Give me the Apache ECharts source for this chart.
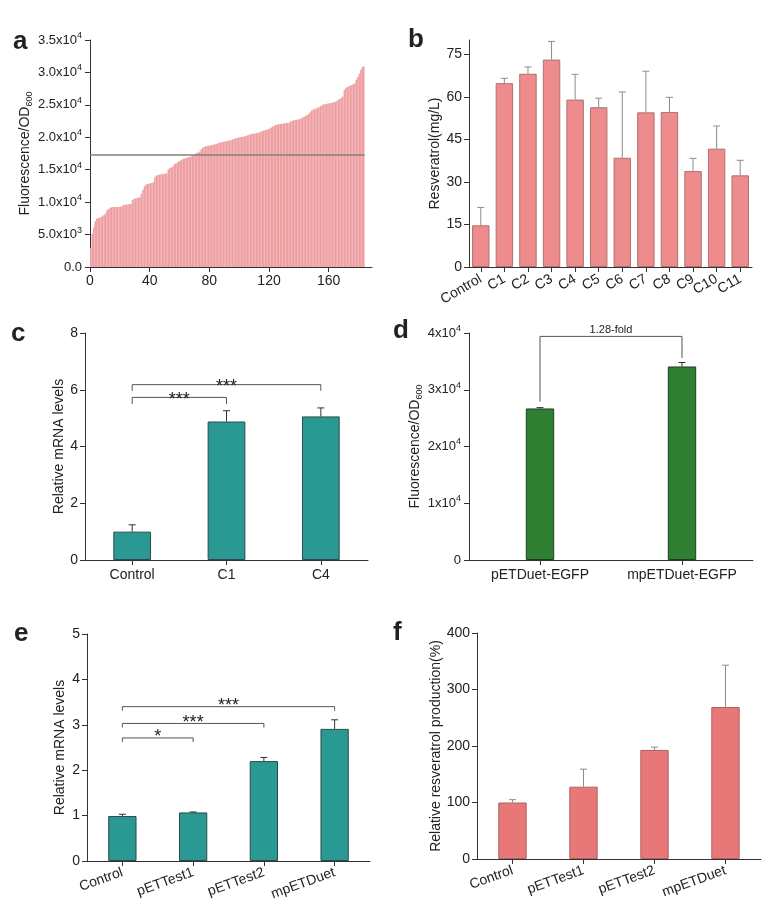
<!DOCTYPE html>
<html>
<head>
<meta charset="utf-8">
<script src="https://cdn.jsdelivr.net/npm/echarts@6/dist/echarts.min.js"></script>
<style>
html,body{margin:0;padding:0;background:#fff;}
#chart{width:776px;height:905px;}
</style>
</head>
<body>
<div id="chart"></div>
<script>
// ---------- DATA ----------
// Panel a: sorted fluorescence/OD600 of 184 clones
const aValues = [
 2950,5150,6100,7050,7450,7550,7600,7750,7900,8000,
 8300,8750,8950,9150,9200,9250,9250,9250,9250,9250,
 9300,9350,9550,9600,9650,9650,9700,9700,10350,10500,
 10600,10650,10700,10750,11300,11900,12450,12700,12800,12850,
 12900,12950,13100,13850,14100,14200,14250,14300,14300,14350,
 14400,14450,15050,15250,15350,15450,15800,15950,16100,16250,
 16400,16550,16700,16750,16800,16900,16950,17000,17100,17250,
 17450,17550,17650,17800,18100,18350,18500,18600,18650,18700,
 18750,18800,18850,18900,18950,19050,19150,19200,19250,19300,
 19350,19400,19450,19500,19550,19650,19750,19850,19900,19950,
 20000,20050,20100,20150,20200,20300,20400,20450,20500,20550,
 20600,20650,20700,20750,20850,20950,21050,21100,21150,21250,
 21350,21500,21650,21800,21900,21950,22000,22050,22100,22100,
 22150,22200,22200,22250,22450,22550,22600,22650,22700,22750,
 22800,22900,23050,23150,23300,23450,23600,23850,24150,24250,
 24350,24450,24550,24650,24800,24950,25050,25100,25150,25200,
 25250,25300,25350,25400,25500,25650,25800,25950,26100,26300,
 27300,27600,27750,27850,27950,28050,28200,28350,28900,29300,
 29800,30400,30800,30950
];
const aThreshold = 17300;
const aXTicks = [0, 40, 80, 120, 160];

// Panel b
const bCategories = ['Control','C1','C2','C3','C4','C5','C6','C7','C8','C9','C10','C11'];
const bValues = [14.7, 64.8, 68.1, 73.1, 59.0, 56.3, 38.5, 54.5, 54.6, 33.8, 41.7, 32.3];
const bErrors = [6.3, 1.7, 2.4, 6.4, 8.9, 3.2, 23.2, 14.5, 5.2, 4.5, 8.0, 5.3];
const bYTicks = [0, 15, 30, 45, 60, 75];

// Panel c
const cCategories = ['Control','C1','C4'];
const cValues = [1.0, 4.88, 5.06];
const cErrors = [0.24, 0.38, 0.30];
// [from, to, bracket level, left leg end, right leg end]
const cBrackets = [[0, 1, 5.73, 5.50, 5.50], [0, 2, 6.18, 5.96, 5.96]];
const cBracketLabels = ['***', '***'];

// Panel d
const dCategories = ['pETDuet-EGFP','mpETDuet-EGFP'];
const dValues = [26700, 34100];
const dErrors = [150, 700];
const dBrackets = [[0, 1, 39400, 27900, 35600]];
const dBracketLabels = ['1.28-fold'];

// Panel e
const eCategories = ['Control','pETTest1','pETTest2','mpETDuet'];
const eValues = [0.99, 1.07, 2.20, 2.91];
const eErrors = [0.04, 0.01, 0.08, 0.20];
const eBrackets = [[0, 1, 2.71, 2.62, 2.62], [0, 2, 3.03, 2.94, 2.94], [0, 3, 3.40, 3.31, 3.31]];
const eBracketLabels = ['*', '***', '***'];

// Panel f
const fCategories = ['Control','pETTest1','pETTest2','mpETDuet'];
const fValues = [100, 128, 193, 269];
const fErrors = [5, 31, 5, 74];

// ---------- STYLE / HELPERS ----------
const FONT = '"Liberation Sans", Arial, sans-serif';
const AX = '#333';
const TXT = '#222';

function sciLabel(v, oneDigit) {
  if (v === 0) return oneDigit ? '{m|0}' : '{m|0.0}';
  const e = Math.floor(Math.log10(v) + 1e-9);
  const m = v / Math.pow(10, e);
  const ms = oneDigit ? String(Math.round(m)) : m.toFixed(1);
  return '{m|' + ms + 'x10}{s|' + e + '}';
}
const sciRich = {
  m: {fontSize: 13, lineHeight: 18, color: TXT, fontFamily: FONT},
  s: {fontSize: 9, lineHeight: 9, verticalAlign: 'top', color: TXT, fontFamily: FONT}
};
const nameRich = {
  n: {fontSize: 14, lineHeight: 18, color: TXT, fontFamily: FONT},
  sub: {fontSize: 9, lineHeight: 9, verticalAlign: 'bottom', color: TXT, fontFamily: FONT}
};

function baseAxis(extra) {
  return Object.assign({
    axisLine: {show: true, lineStyle: {color: AX, width: 1}},
    axisTick: {show: true, length: 5, lineStyle: {color: AX, width: 1}},
    axisLabel: {color: TXT, fontSize: 14, fontFamily: FONT, margin: 7},
    splitLine: {show: false}
  }, extra);
}

function catAxis(gi, cats, rotate) {
  return baseAxis({
    type: 'category', gridIndex: gi, data: cats,
    axisTick: {show: true, length: 5, alignWithLabel: true, lineStyle: {color: AX}},
    axisLabel: {color: TXT, fontSize: 14, fontFamily: FONT, rotate: rotate || 0, margin: rotate ? 11 : 8, interval: 0}
  });
}

function errSeries(ax, vals, errs, color, capW) {
  return {
    type: 'custom', xAxisIndex: ax, yAxisIndex: ax, z: 3, silent: true,
    data: vals.map((v, i) => [i, v, v + errs[i]]),
    renderItem: function (params, api) {
      const x = api.value(0);
      const p0 = api.coord([x, api.value(1)]);
      const p1 = api.coord([x, api.value(2)]);
      return {type: 'group', children: [
        {type: 'line', shape: {x1: p0[0], y1: p0[1], x2: p1[0], y2: p1[1]}, style: {stroke: color, lineWidth: 1}},
        {type: 'line', shape: {x1: p1[0] - capW / 2, y1: p1[1], x2: p1[0] + capW / 2, y2: p1[1]}, style: {stroke: color, lineWidth: 1}}
      ]};
    }
  };
}

function bracketSeries(ax, brackets, labels, opts) {
  return {
    type: 'custom', xAxisIndex: ax, yAxisIndex: ax, z: 4, silent: true,
    data: brackets,
    renderItem: function (params, api) {
      const i0 = api.value(0), i1 = api.value(1), y = api.value(2);
      const a = api.coord([i0, api.value(3)]);
      const b = api.coord([i0, y]);
      const c = api.coord([i1, y]);
      const d = api.coord([i1, api.value(4)]);
      return {type: 'group', children: [
        {type: 'polyline', shape: {points: [a, b, c, d]}, style: {stroke: opts.color, fill: null, lineWidth: 1}},
        {type: 'text', x: (b[0] + c[0]) / 2, y: b[1] + opts.off,
         style: {text: labels[params.dataIndex], fill: TXT, font: opts.font, align: 'center', verticalAlign: opts.va}}
      ]};
    }
  };
}

function barSeries(ax, vals, color, border, width) {
  return {
    type: 'bar', xAxisIndex: ax, yAxisIndex: ax, data: vals, barWidth: width,
    itemStyle: {color: color, borderColor: border, borderWidth: 1}, silent: true, z: 2
  };
}

// ---------- LAYOUT ----------
const grids = [
  {left: 90, top: 40, width: 282, height: 227},     // a
  {left: 469, top: 40, width: 283, height: 227},    // b
  {left: 85, top: 333, width: 283, height: 227},    // c
  {left: 469, top: 333, width: 284, height: 227},   // d
  {left: 87, top: 634, width: 283, height: 227},    // e
  {left: 477, top: 633, width: 284, height: 226}    // f
].map(g => Object.assign({outerBoundsMode: 'none', containLabel: false}, g));

const xAxes = [
  baseAxis({type: 'value', gridIndex: 0, min: 0, max: 189,
    axisTick: {show: true, length: 5, lineStyle: {color: AX}, customValues: aXTicks},
    axisLabel: {color: TXT, fontSize: 14, fontFamily: FONT, margin: 7, customValues: aXTicks}}),
  catAxis(1, bCategories, 30),
  catAxis(2, cCategories, 0),
  catAxis(3, dCategories, 0),
  catAxis(4, eCategories, 20),
  catAxis(5, fCategories, 20)
];

const yAxes = [
  baseAxis({type: 'value', gridIndex: 0, min: 0, max: 35000, interval: 5000,
    axisLabel: {formatter: v => sciLabel(v, false), rich: sciRich, margin: 8},
    name: '{n|Fluorescence/OD}{sub|600}', nameLocation: 'middle', nameGap: 56,
    nameTextStyle: {rich: nameRich}}),
  baseAxis({type: 'value', gridIndex: 1, min: 0, max: 80,
    axisTick: {show: true, length: 5, lineStyle: {color: AX}, customValues: bYTicks},
    axisLabel: {color: TXT, fontSize: 14, fontFamily: FONT, margin: 7, customValues: bYTicks},
    name: 'Resveratrol(mg/L)', nameLocation: 'middle', nameGap: 27,
    nameTextStyle: {fontSize: 14, color: TXT, fontFamily: FONT}}),
  baseAxis({type: 'value', gridIndex: 2, min: 0, max: 8, interval: 2,
    name: 'Relative mRNA levels', nameLocation: 'middle', nameGap: 18,
    nameTextStyle: {fontSize: 14, color: TXT, fontFamily: FONT}}),
  baseAxis({type: 'value', gridIndex: 3, min: 0, max: 40000, interval: 10000,
    axisLabel: {formatter: v => sciLabel(v, true), rich: sciRich, margin: 8},
    name: '{n|Fluorescence/OD}{sub|600}', nameLocation: 'middle', nameGap: 45,
    nameTextStyle: {rich: nameRich}}),
  baseAxis({type: 'value', gridIndex: 4, min: 0, max: 5, interval: 1,
    name: 'Relative mRNA levels', nameLocation: 'middle', nameGap: 20,
    nameTextStyle: {fontSize: 14, color: TXT, fontFamily: FONT}}),
  baseAxis({type: 'value', gridIndex: 5, min: 0, max: 400, interval: 100,
    name: 'Relative resveratrol production(%)', nameLocation: 'middle', nameGap: 34,
    nameTextStyle: {fontSize: 14, color: TXT, fontFamily: FONT}})
];

const series = [
  {
    type: 'bar', xAxisIndex: 0, yAxisIndex: 0, silent: true,
    data: aValues.map((v, i) => [i + 0.5, v]),
    barWidth: 1.5, itemStyle: {color: '#EE9EA1'},
    markLine: {
      silent: true, symbol: 'none', label: {show: false},
      lineStyle: {color: '#808080', width: 1.5, type: 'solid'},
      data: [[{coord: [0, aThreshold]}, {coord: [aValues.length, aThreshold]}]]
    }
  },
  barSeries(1, bValues, '#EE8B8C', '#B07070', '74%'),
  errSeries(1, bValues, bErrors, '#8c8c8c', 7),
  barSeries(2, cValues, '#2A9994', '#2B4A48', '40%'),
  errSeries(2, cValues, cErrors, '#333', 7),
  bracketSeries(2, cBrackets, cBracketLabels, {color: '#555', off: 2.5, va: 'middle', font: '18px ' + FONT}),
  barSeries(3, dValues, '#2E7F32', '#1E3F1F', '20%'),
  errSeries(3, dValues, dErrors, '#333', 7),
  bracketSeries(3, dBrackets, dBracketLabels, {color: '#555', off: -1, va: 'bottom', font: '11px ' + FONT}),
  barSeries(4, eValues, '#2A9994', '#2B4A48', '40%'),
  errSeries(4, eValues, eErrors, '#333', 7),
  bracketSeries(4, eBrackets, eBracketLabels, {color: '#555', off: -0.5, va: 'middle', font: '18px ' + FONT}),
  barSeries(5, fValues, '#E87878', '#B06060', '40%'),
  errSeries(5, fValues, fErrors, '#8c8c8c', 7)
];

const letters = [['a', 13, 29], ['b', 408, 27], ['c', 11, 321], ['d', 393, 318], ['e', 14, 621], ['f', 393, 620]];

const chart = echarts.init(document.getElementById('chart'), null, {renderer: 'canvas'});
chart.setOption({
  backgroundColor: '#fff',
  animation: false,
  grid: grids,
  xAxis: xAxes,
  yAxis: yAxes,
  series: series,
  graphic: letters.map(l => ({
    type: 'text', left: l[1], top: l[2],
    style: {text: l[0], font: 'bold 26px ' + FONT, fill: '#222'}
  }))
});
</script>
</body>
</html>
